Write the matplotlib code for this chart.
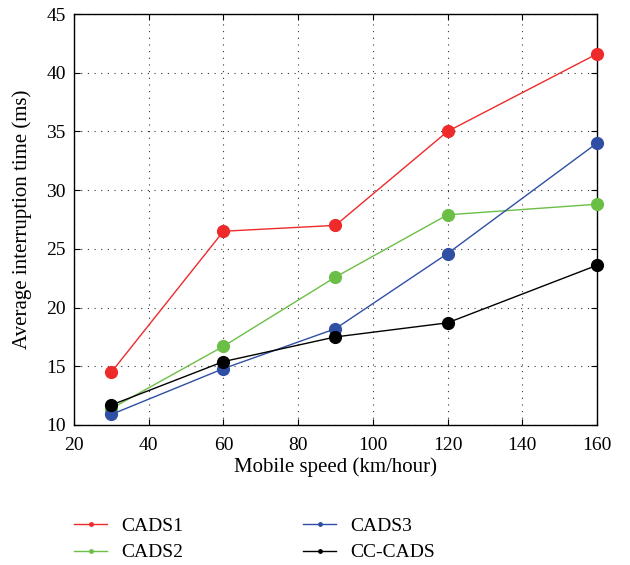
import numpy as np
import matplotlib
matplotlib.use("Agg")
import matplotlib.pyplot as plt

plt.rcParams['font.family'] = ['Liberation Serif', 'DejaVu Serif']

speed = [30, 60, 90, 120, 160]
cads1 = [14.5, 26.5, 27.0, 35.0, 41.6]
cads2 = [11.4, 16.7, 22.6, 27.9, 28.8]
cads3 = [10.9, 14.8, 18.2, 24.6, 34.0]
cc_cads = [11.7, 15.4, 17.5, 18.7, 23.6]

series = [
    ("CADS1", cads1, "#ee2a2a"),
    ("CADS2", cads2, "#6cbf46"),
    ("CADS3", cads3, "#2f4fa5"),
    ("CC-CADS", cc_cads, "#000000"),
]

fig = plt.figure(figsize=(6.3, 5.65), dpi=100)
ax = fig.add_axes([0.1175, 0.2478, 0.83, 0.7274])

handles = []
for name, vals, col in series:
    ax.plot(speed, vals, '-', color=col, lw=1.0, marker='o', ms=9.5,
            markeredgewidth=0, zorder=3, clip_on=False)
    h, = ax.plot([], [], '-', color=col, lw=1.0, marker='o', ms=3.5,
                 markeredgewidth=0, label=name)
    handles.append(h)

ax.set_xlim(20, 160)
ax.set_ylim(10, 45)
ax.set_xticks(np.arange(20, 161, 20))
ax.set_yticks(np.arange(10, 46, 5))
ax.grid(True, linestyle=(0, (1, 5)), color='#333333', lw=0.8)
ax.tick_params(direction='in', top=True, right=True, labelsize=14, length=4)
ax.tick_params(axis='x', pad=9)
ax.tick_params(axis='y', pad=6)
for s in ax.spines.values():
    s.set_linewidth(1.0)
ax.set_xlabel("Mobile speed (km/hour)", fontsize=15, labelpad=2)
ax.set_ylabel("Average interruption time (ms)", fontsize=15, labelpad=10)

fig.legend(handles=handles,
           loc='upper left', bbox_to_anchor=(0.09, 0.115), ncol=2,
           frameon=False, fontsize=14, handlelength=1.7, handletextpad=0.7,
           columnspacing=6.2, labelspacing=0.45)

fig.savefig("out.png", dpi=100)
